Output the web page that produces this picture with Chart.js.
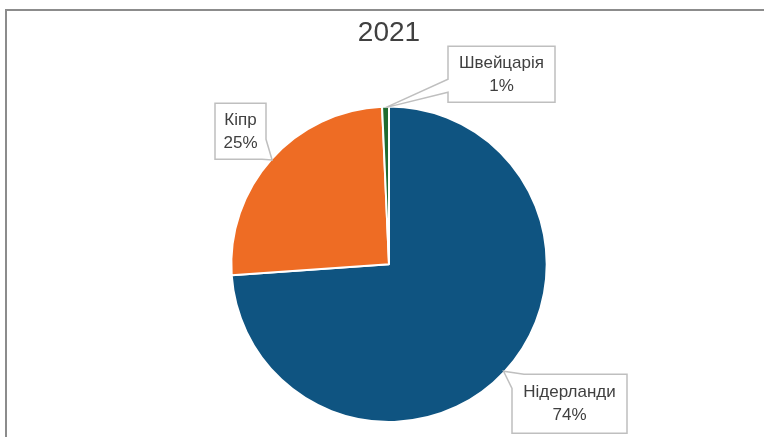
<!DOCTYPE html>
<html>
<head>
<meta charset="utf-8">
<script src="https://cdn.jsdelivr.net/npm/chart.js@4.4.0/dist/chart.umd.min.js"></script>
<style>
    html, body { margin: 0; padding: 0; background: #fff; overflow: hidden; }
    #marco { position: absolute; left: 5px; top: 9px; width: 900px; height: 600px;
             border-top: 2px solid #8c8c8c; border-left: 2px solid #8c8c8c; }
    #contenedor { position: absolute; left: 0; top: 0; width: 764px; height: 437px; }
</style>
</head>
<body>
<div id="marco"></div>
<div id="contenedor"><canvas id="paisesChart" width="764" height="437"></canvas></div>
<script>
// Datos del gráfico
const titulo = '2021';
const paises = ['Нідерланди', 'Кіпр', 'Швейцарія'];
const valores = [73.9, 25.4, 0.7];
const colores = ['#0F5481', '#EE6C24', '#1F6B2E'];

// Ubicación de las etiquetas (relativa al centro del gráfico)
const cajas = [
    { dx: 123, dy: 110, w: 115, h: 59, cola: 'tl', t1: 12, t2: 14 },
    { dx: -174, dy: -161, w: 51, h: 56, cola: 'br', t1: 20, t2: 4 },
    { dx: 59, dy: -218, w: 107, h: 56, cola: 'l', t1: 33, t2: 46 }
];

function dibujarCaja(ctx, b, tip) {
    const x0 = b.x, y0 = b.y, x1 = b.x + b.w, y1 = b.y + b.h;
    ctx.beginPath();
    if (b.cola === 'tl') {
        ctx.moveTo(x0 + b.t1, y0);
        ctx.lineTo(x1, y0);
        ctx.lineTo(x1, y1);
        ctx.lineTo(x0, y1);
        ctx.lineTo(x0, y0 + b.t2);
        ctx.lineTo(tip.x, tip.y);
    } else if (b.cola === 'br') {
        ctx.moveTo(x0, y0);
        ctx.lineTo(x1, y0);
        ctx.lineTo(x1, y1 - b.t1);
        ctx.lineTo(tip.x, tip.y);
        ctx.lineTo(x1 - b.t2, y1);
        ctx.lineTo(x0, y1);
    } else {
        ctx.moveTo(x0, y0);
        ctx.lineTo(x1, y0);
        ctx.lineTo(x1, y1);
        ctx.lineTo(x0, y1);
        ctx.lineTo(x0, y0 + b.t2);
        ctx.lineTo(tip.x, tip.y);
        ctx.lineTo(x0, y0 + b.t1);
    }
    ctx.closePath();
    ctx.fillStyle = '#ffffff';
    ctx.fill();
    ctx.strokeStyle = '#BFBFBF';
    ctx.lineWidth = 1.5;
    ctx.stroke();
}

const etiquetasPlugin = {
    id: 'etiquetas',
    afterDatasetsDraw(chart) {
        const ctx = chart.ctx;
        const meta = chart.getDatasetMeta(0);
        const total = valores.reduce((a, b) => a + b, 0);
        ctx.save();
        meta.data.forEach((arc, i) => {
            const p = arc.getProps(['x', 'y', 'startAngle', 'endAngle', 'outerRadius'], true);
            const medio = (p.startAngle + p.endAngle) / 2;
            const tip = {
                x: p.x + Math.cos(medio) * (p.outerRadius - 1),
                y: p.y + Math.sin(medio) * (p.outerRadius - 1)
            };
            const c = cajas[i];
            const b = { x: p.x + c.dx, y: p.y + c.dy, w: c.w, h: c.h, cola: c.cola, t1: c.t1, t2: c.t2 };
            dibujarCaja(ctx, b, tip);
            ctx.fillStyle = '#404040';
            ctx.font = '17px "Liberation Sans", Arial, sans-serif';
            ctx.textAlign = 'center';
            ctx.textBaseline = 'middle';
            const cx = b.x + b.w / 2, cy = b.y + b.h / 2;
            ctx.fillText(paises[i], cx, cy - 11);
            ctx.fillText(Math.round(valores[i] / total * 100) + '%', cx, cy + 12);
        });
        ctx.restore();
    }
};

new Chart(document.getElementById('paisesChart'), {
    type: 'pie',
    data: {
        labels: paises,
        datasets: [{
            data: valores,
            backgroundColor: colores,
            borderColor: '#ffffff',
            borderWidth: 2
        }]
    },
    options: {
        responsive: false,
        animation: false,
        layout: {
            padding: { left: 14, right: 0, top: 0, bottom: 14 }
        },
        plugins: {
            legend: { display: false },
            tooltip: { enabled: false },
            title: {
                display: true,
                text: titulo,
                color: '#404040',
                font: { family: '"Liberation Sans Narrow", "Liberation Sans", Arial, sans-serif', size: 28, weight: 'normal' },
                padding: { top: 16, bottom: 56 }
            }
        }
    },
    plugins: [etiquetasPlugin]
});
</script>
</body>
</html>
